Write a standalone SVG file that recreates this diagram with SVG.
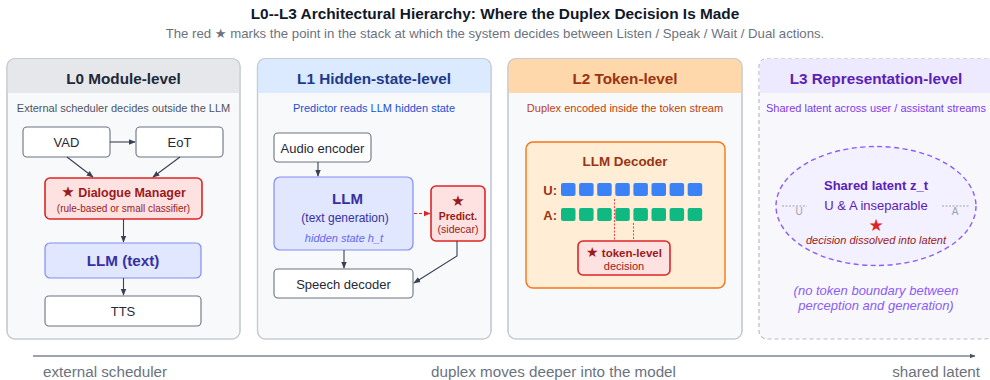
<svg xmlns="http://www.w3.org/2000/svg" width="990" height="380" viewBox="0 0 990 380">
<style>
text{font-family:"Liberation Sans",Arial,"DejaVu Sans",sans-serif}
.panel{fill:#f8f9fb;stroke:#c7cbd1;stroke-width:1.2}
.ptitle{font-size:15.3px;font-weight:bold;text-anchor:middle}
.psub{font-size:11px;text-anchor:middle}
.box{fill:#ffffff;stroke:#6b7280;stroke-width:1.1}
.btxt{font-size:13px;fill:#1f2937;text-anchor:middle}
.red{fill:#fee2e2;stroke:#dc2626;stroke-width:1.6}
.llm{fill:#e0e7ff;stroke:#818cf8;stroke-width:1.2}
.conn{fill:none;stroke:#374151;stroke-width:1.1}
.c{text-anchor:middle}
</style>
<defs>
<marker id="ah" viewBox="0 0 10 10" refX="9" refY="5" markerWidth="7" markerHeight="7" orient="auto-start-reverse" markerUnits="userSpaceOnUse"><path d="M0,1 L10,5 L0,9 Z" fill="#374151"/></marker>
<marker id="ahr" viewBox="0 0 10 10" refX="9" refY="5" markerWidth="7" markerHeight="7" orient="auto" markerUnits="userSpaceOnUse"><path d="M0,1 L10,5 L0,9 Z" fill="#dc2626"/></marker>
<marker id="ahg" viewBox="0 0 10 10" refX="9" refY="5" markerWidth="6" markerHeight="6" orient="auto" markerUnits="userSpaceOnUse"><path d="M0,1 L10,5 L0,9 Z" fill="#4b5563"/></marker>
</defs>
<rect width="990" height="380" fill="#ffffff"/>
<text x="495" y="18.5" class="c" font-size="15.4" font-weight="bold" fill="#111827">L0--L3 Architectural Hierarchy: Where the Duplex Decision Is Made</text>
<text x="495" y="37.5" class="c" font-size="13.2" fill="#6b7280">The red ★ marks the point in the stack at which the system decides between Listen / Speak / Wait / Dual actions.</text>

<g id="panel-L0">
<rect class="panel" x="7" y="58.5" width="233" height="280.5" rx="8"/>
<path d="M7,93 V66.5 a8,8 0 0 1 8,-8 H232 a8,8 0 0 1 8,8 V93 Z" fill="#e5e7eb"/>
<rect x="7" y="58.5" width="233" height="280.5" rx="8" fill="none" stroke="#c7cbd1" stroke-width="1.2"/>
<text x="123.5" y="83.5" class="ptitle" fill="#1f2937">L0 Module-level</text>
<text x="123.5" y="112" class="psub" fill="#4b5563">External scheduler decides outside the LLM</text>
</g>
<g id="node-vad"><rect class="box" x="23" y="127" width="87" height="30" rx="4"/><text x="66.5" y="147" class="btxt">VAD</text></g>
<g id="node-eot"><rect class="box" x="136" y="127" width="87" height="30" rx="4"/><text x="179.5" y="147" class="btxt">EoT</text></g>
<g id="node-dm"><rect class="red" x="45" y="178" width="157" height="41" rx="5"/>
<text x="123.5" y="197" class="c" font-size="12.5" font-weight="bold" fill="#991b1b"><tspan font-size="15" font-weight="normal">★</tspan> Dialogue Manager</text>
<text x="123.5" y="212" class="c" font-size="10" fill="#991b1b">(rule-based or small classifier)</text></g>
<g id="node-llm-text"><rect class="llm" x="45" y="243" width="156" height="35" rx="5"/><text x="123" y="266" class="c" font-size="15.2" font-weight="bold" fill="#3730a3">LLM (text)</text></g>
<g id="node-tts"><rect class="box" x="45" y="296" width="156" height="30" rx="4"/><text x="123" y="316" class="btxt">TTS</text></g>

<g id="panel-L1">
<rect class="panel" x="257.5" y="58.5" width="233.5" height="280.5" rx="8"/>
<path d="M257.5,93 V66.5 a8,8 0 0 1 8,-8 H483 a8,8 0 0 1 8,8 V93 Z" fill="#dbeafe"/>
<rect x="257.5" y="58.5" width="233.5" height="280.5" rx="8" fill="none" stroke="#c7cbd1" stroke-width="1.2"/>
<text x="374" y="83.5" class="ptitle" fill="#1e3a8a">L1 Hidden-state-level</text>
<text x="374" y="112" class="psub" fill="#1d4ed8">Predictor reads LLM hidden state</text>
</g>
<g id="node-audio-encoder"><rect class="box" x="274" y="133" width="97" height="29" rx="4"/><text x="322.5" y="152.5" class="btxt">Audio encoder</text></g>
<g id="node-llm-l1"><rect class="llm" x="274" y="177" width="139" height="73" rx="6"/>
<text x="347.5" y="204" class="c" font-size="15" font-weight="bold" fill="#3730a3">LLM</text>
<text x="345" y="222" class="c" font-size="12" fill="#3730a3">(text generation)</text>
<text x="344" y="242" class="c" font-size="11" font-style="italic" fill="#6366f1">hidden state h_t</text></g>
<g id="node-predict"><rect class="red" x="431" y="186" width="54" height="55" rx="5"/>
<text x="458" y="206" class="c" font-size="15" fill="#991b1b">★</text>
<text x="458" y="219.5" class="c" font-size="10.5" font-weight="bold" fill="#991b1b">Predict.</text>
<text x="458" y="233" class="c" font-size="10.5" fill="#991b1b">(sidecar)</text></g>
<g id="node-speech-decoder"><rect class="box" x="274" y="269" width="139" height="29" rx="4"/><text x="343.5" y="288.5" class="btxt">Speech decoder</text></g>

<g id="panel-L2">
<rect class="panel" x="508" y="58.5" width="234" height="280.5" rx="8"/>
<path d="M508,93 V66.5 a8,8 0 0 1 8,-8 H734 a8,8 0 0 1 8,8 V93 Z" fill="#fed7aa"/>
<rect x="508" y="58.5" width="234" height="280.5" rx="8" fill="none" stroke="#c7cbd1" stroke-width="1.2"/>
<text x="625" y="83.5" class="ptitle" fill="#9a3412">L2 Token-level</text>
<text x="625" y="112" class="psub" fill="#c2410c">Duplex encoded inside the token stream</text>
</g>
<g id="node-llm-decoder"><rect x="526" y="142" width="199" height="146" rx="7" fill="#ffedd5" stroke="#f97316" stroke-width="1.4"/>
<text x="625" y="166" class="c" font-size="13.4" font-weight="bold" fill="#9a3412">LLM Decoder</text>
<text x="557" y="194.5" font-size="13" font-weight="bold" fill="#9a3412" text-anchor="end">U:</text>
<text x="557" y="219.5" font-size="13" font-weight="bold" fill="#9a3412" text-anchor="end">A:</text>
<g fill="#3b82f6">
<rect x="561" y="183" width="14.5" height="13" rx="2"/><rect x="579.1" y="183" width="14.5" height="13" rx="2"/><rect x="597.2" y="183" width="14.5" height="13" rx="2"/><rect x="615.3" y="183" width="14.5" height="13" rx="2"/><rect x="633.4" y="183" width="14.5" height="13" rx="2"/><rect x="651.5" y="183" width="14.5" height="13" rx="2"/><rect x="669.6" y="183" width="14.5" height="13" rx="2"/><rect x="687.7" y="183" width="14.5" height="13" rx="2"/>
</g>
<g fill="#10b981">
<rect x="561" y="208" width="14.5" height="13" rx="2"/><rect x="579.1" y="208" width="14.5" height="13" rx="2"/><rect x="597.2" y="208" width="14.5" height="13" rx="2"/><rect x="615.3" y="208" width="14.5" height="13" rx="2"/><rect x="633.4" y="208" width="14.5" height="13" rx="2"/><rect x="651.5" y="208" width="14.5" height="13" rx="2"/><rect x="669.6" y="208" width="14.5" height="13" rx="2"/><rect x="687.7" y="208" width="14.5" height="13" rx="2"/>
</g>
</g>
<g id="node-token-decision"><rect class="red" x="578" y="241" width="92" height="34" rx="5"/>
<text x="624" y="256.5" class="c" font-size="11.5" font-weight="bold" fill="#991b1b"><tspan font-size="14" font-weight="normal">★</tspan> token-level</text>
<text x="624" y="270" class="c" font-size="11" fill="#991b1b">decision</text></g>

<g id="panel-L3">
<rect x="759" y="58.5" width="234" height="280.5" rx="8" fill="#f8f8fc" stroke="#b8bcc4" stroke-width="1.2" stroke-dasharray="4 3"/>
<path d="M759.6,93 V66.5 a8,8 0 0 1 8,-8 H990 V93 Z" fill="#ede9fe"/>
<text x="876" y="83.5" class="ptitle" fill="#5b21b6">L3 Representation-level</text>
<text x="876" y="112" class="psub" fill="#7c3aed">Shared latent across user / assistant streams</text>
</g>
<g id="node-shared-latent">
<ellipse cx="876" cy="206" rx="100" ry="59.5" fill="#f3f0ff" stroke="#8b5cf6" stroke-width="1.4" stroke-dasharray="5 3.5"/>
<text x="876" y="190" class="c" font-size="13" font-weight="bold" fill="#5b21b6">Shared latent z_t</text>
<text x="876" y="210" class="c" font-size="13" fill="#5b21b6">U &amp; A inseparable</text>
<line x1="782" y1="206" x2="807" y2="206" stroke="#9ca3af" stroke-width="1" stroke-dasharray="2 1.5"/>
<line x1="942" y1="206" x2="969" y2="206" stroke="#9ca3af" stroke-width="1" stroke-dasharray="2 1.5"/>
<text x="799" y="215" class="c" font-size="10" fill="#9ca3af">U</text>
<text x="955" y="215" class="c" font-size="10" fill="#9ca3af">A</text>
<text x="876" y="230.5" class="c" font-size="17" fill="#dc2626">★</text>
<text x="876" y="244" class="c" font-size="11" font-style="italic" fill="#991b1b">decision dissolved into latent</text>
</g>
<g id="note-l3">
<text x="876" y="295" class="c" font-size="13" font-style="italic" fill="#8b5cf6">(no token boundary between</text>
<text x="876" y="310" class="c" font-size="13" font-style="italic" fill="#8b5cf6">perception and generation)</text>
</g>

<g id="connectors">
<line class="conn" x1="110" y1="142" x2="135" y2="142" marker-end="url(#ah)"/>
<line class="conn" x1="67" y1="157" x2="93" y2="177" marker-end="url(#ah)"/>
<line class="conn" x1="180" y1="157" x2="153" y2="177" marker-end="url(#ah)"/>
<line class="conn" x1="123.5" y1="219" x2="123.5" y2="242" marker-end="url(#ah)"/>
<line class="conn" x1="123.5" y1="278" x2="123.5" y2="295" marker-end="url(#ah)"/>
<line class="conn" x1="318" y1="162" x2="318" y2="176" marker-end="url(#ah)"/>
<line class="conn" x1="344" y1="250" x2="344" y2="268" marker-end="url(#ah)"/>
<line x1="414" y1="213.5" x2="430" y2="213.5" stroke="#dc2626" stroke-width="1.1" stroke-dasharray="3 2" marker-end="url(#ahr)"/>
<polyline class="conn" points="457,241 457,256 414,283" marker-end="url(#ah)"/>
<line x1="614.5" y1="199" x2="614.5" y2="240" stroke="#ef4444" stroke-width="1" stroke-dasharray="2 1.5"/>
<line x1="633.5" y1="223" x2="633.5" y2="240" stroke="#ef4444" stroke-width="1" stroke-dasharray="2 1.5"/>
<line x1="33" y1="356" x2="975" y2="356" stroke="#9ca3af" stroke-width="2" marker-end="url(#ahg)"/>
</g>
<g id="axis-labels" font-size="15.2" fill="#6b7280">
<text x="43" y="376.5">external scheduler</text>
<text x="553.5" y="376.5" class="c">duplex moves deeper into the model</text>
<text x="980" y="376.5" text-anchor="end">shared latent</text>
</g>
</svg>
